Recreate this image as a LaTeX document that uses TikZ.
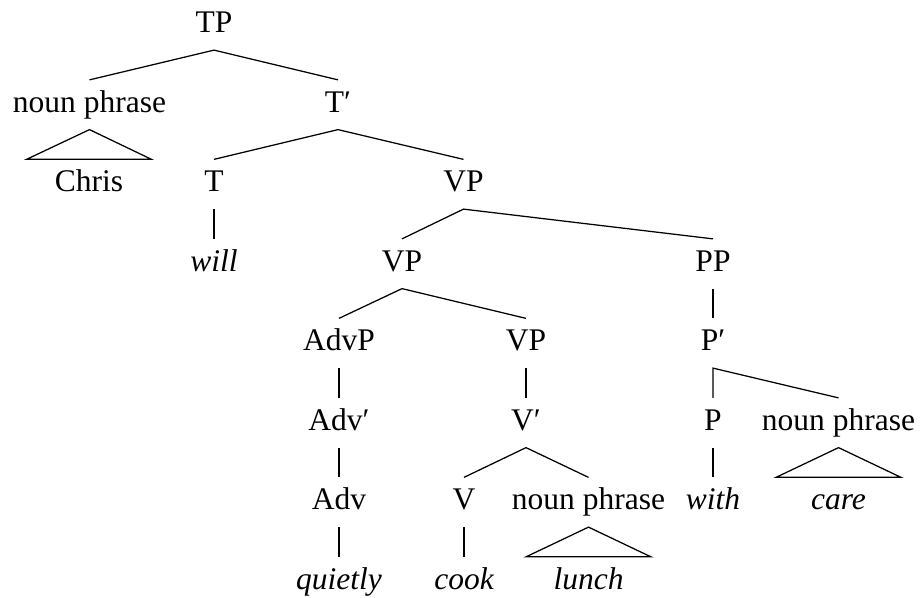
\documentclass[tikz,border=0pt]{standalone}
\usepackage{fontspec}
\setmainfont{Liberation Serif}
\usepackage{tikz}
\tikzset{
        lbl/.style={anchor=base, inner xsep=2pt, inner ysep=3pt, text height=9.8pt, text depth=3.6pt},
        roof/.style={line join=miter},
    }

\begin{document}
\begin{tikzpicture}[x=0.4pt, y=-0.4pt, font=\fontsize{12.6}{15}\selectfont, line width=0.5pt, every node/.style={lbl}]
        \useasboundingbox (0,0) rectangle (920,598);
        \node (tp) at (214,33) {TP};
        \node (np1) at (89.5,112.5) {noun phrase};
        \node (tbar) at (338,112.5) {T′};
        \node (chris) at (89,192) {Chris};
        \node (t) at (214,192) {T};
        \node (vp1) at (463.5,192) {VP};
        \node (will) at (214,271.5) {\itshape will};
        \node (vp2) at (402,271.5) {VP};
        \node (pp) at (713,271.5) {PP};
        \node (advp) at (339,351) {AdvP};
        \node (vp3) at (526,351) {VP};
        \node (pbar) at (713,351) {P′};
        \node (advbar) at (339,430.5) {Adv′};
        \node (vbar) at (526,430.5) {V′};
        \node (p) at (713,430.5) {P};
        \node (np3) at (838.5,430.5) {noun phrase};
        \node (adv) at (339,510) {Adv};
        \node (v) at (464,510) {V};
        \node (np2) at (588.5,510) {noun phrase};
        \node (with) at (713,510) {\itshape with};
        \node (care) at (838.5,510) {\itshape care};
        \node (quietly) at (339,589.5) {\itshape quietly};
        \node (cook) at (464,589.5) {\itshape cook};
        \node (lunch) at (588.5,589.5) {\itshape lunch};
        \draw (np1.north) -- (tp.south) -- (tbar.north);
        \draw (t.north) -- (tbar.south) -- (vp1.north);
        \draw (vp2.north) -- (vp1.south) -- (pp.north);
        \draw (advp.north) -- (vp2.south) -- (vp3.north);
        \draw (v.north) -- (vbar.south) -- (np2.north);
        \draw (p.north) -- (pbar.south) -- (np3.north);
        \draw (t.south) -- (will.north);
        \draw (pp.south) -- (pbar.north);
        \draw (advp.south) -- (advbar.north);
        \draw (advbar.south) -- (adv.north);
        \draw (adv.south) -- (quietly.north);
        \draw (vp3.south) -- (vbar.north);
        \draw (v.south) -- (cook.north);
        \draw (p.south) -- (with.north);
        \draw [roof] (np1.south) -- ([xshift=-25pt]chris.north) -- ([xshift=25pt]chris.north) -- cycle;
        \draw [roof] (np2.south) -- ([xshift=-25pt]lunch.north) -- ([xshift=25pt]lunch.north) -- cycle;
        \draw [roof] (np3.south) -- ([xshift=-25pt]care.north) -- ([xshift=25pt]care.north) -- cycle;
    \end{tikzpicture}
\end{document}
